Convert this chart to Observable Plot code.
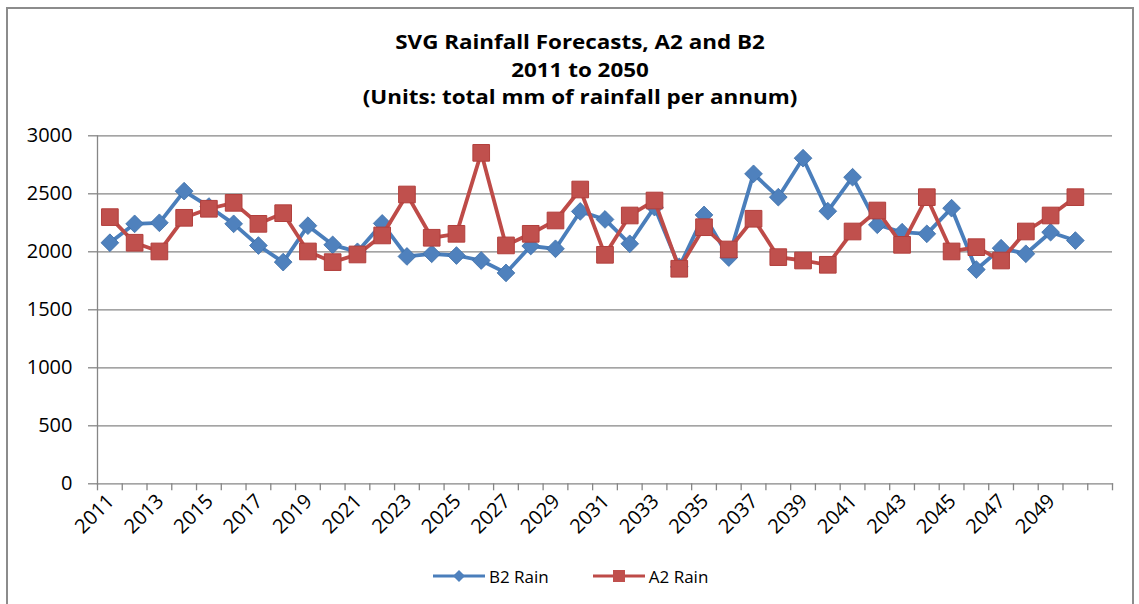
<!DOCTYPE html>
<html>
<head>
<meta charset="utf-8">
<script src="https://cdn.jsdelivr.net/npm/d3@7"></script>
<script src="https://cdn.jsdelivr.net/npm/@observablehq/plot@0.6"></script>
<style>
  body { margin: 0; background: #fff; }
  #wrap { position: relative; width: 1139px; height: 604px; background: #fff; overflow: hidden; font-family: "Open Sans", "Lato", sans-serif; color: #000; }
  #frame { position: absolute; left: 6px; top: 7px; width: 1128px; height: 640px; border: 2px solid #8c8c8c; box-sizing: border-box; }
  #title { position: absolute; left: 0; width: 1160px; top: 28px; text-align: center; font-weight: bold; font-size: 20px; line-height: 27.5px; transform: scaleX(1.12); transform-origin: 580px 0; }
  #chart { position: absolute; left: 0; top: 110px; }
  #legend { position: absolute; left: 433px; top: 564px; height: 24px; display: flex; align-items: center; font-size: 17px; }
  #legend .item { display: flex; align-items: center; margin-right: 44px; }
  #legend svg { margin-right: 4px; }
</style>
</head>
<body>
<div id="wrap">
  <div id="frame"></div>
  <div id="title"></div>
  <div id="chart"></div>
  <div id="legend"></div>
</div>
<script>
// ---- data ----
const titleLines = ["SVG Rainfall Forecasts, A2 and B2", "2011 to 2050", "(Units: total mm of rainfall per annum)"];
const years = ["2011","2012","2013","2014","2015","2016","2017","2018","2019","2020",
               "2021","2022","2023","2024","2025","2026","2027","2028","2029","2030",
               "2031","2032","2033","2034","2035","2036","2037","2038","2039","2040",
               "2041","2042","2043","2044","2045","2046","2047","2048","2049","2050"];
const categories = [...years, " "]; // 41 category slots, the last one empty
const b2Rain = [2078, 2241, 2250, 2523, 2390, 2241, 2054, 1911, 2225, 2060,
                2000, 2245, 1960, 1983, 1968, 1925, 1818, 2050, 2026, 2348,
                2279, 2069, 2385, 1870, 2318, 1950, 2672, 2471, 2807, 2350,
                2643, 2233, 2169, 2155, 2376, 1847, 2031, 1983, 2169, 2097];
const a2Rain = [2299, 2078, 2003, 2293, 2371, 2422, 2241, 2333, 2003, 1911,
                1977, 2141, 2494, 2121, 2155, 2853, 2055, 2155, 2270, 2537,
                1974, 2313, 2442, 1854, 2212, 2020, 2285, 1954, 1925, 1888,
                2175, 2356, 2060, 2471, 2003, 2040, 1925, 2175, 2313, 2471];
const xTickLabels = ["2011","2013","2015","2017","2019","2021","2023","2025","2027","2029",
                     "2031","2033","2035","2037","2039","2041","2043","2045","2047","2049"];
const yTicks = [0, 500, 1000, 1500, 2000, 2500, 3000];
const seriesNames = ["B2 Rain", "A2 Rain"];
const seriesColors = { "B2 Rain": "#4A7EBB", "A2 Rain": "#BE4B48" };
const markerFill = { "B2 Rain": "#4F81BD", "A2 Rain": "#C0504D" };

// ---- title ----
document.getElementById("title").innerHTML = titleLines.map(t => `<div>${t}</div>`).join("");

// ---- chart ----
const W = 1139, H = 440, mL = 97, mR = 27, mT = 25.3, mB = 66.7;
const step = (W - mL - mR) / categories.length;
const grid = "#868686";
const font = "'Open Sans', sans-serif";

const b2 = years.map((y, i) => ({year: y, value: b2Rain[i]}));
const a2 = years.map((y, i) => ({year: y, value: a2Rain[i]}));

const chart = Plot.plot({
  width: W, height: H,
  marginLeft: mL, marginRight: mR, marginTop: mT, marginBottom: mB,
  style: { fontFamily: font, background: "transparent", color: "#000", overflow: "visible" },
  x: { type: "point", domain: categories, padding: 0.5, axis: null },
  y: { domain: [0, 3000], axis: null },
  marks: [
    Plot.ruleY(yTicks.slice(1), { stroke: grid, strokeWidth: 1.3 }),
    Plot.frame({ anchor: "left", stroke: grid, strokeWidth: 1.3 }),
    Plot.frame({ anchor: "bottom", stroke: grid, strokeWidth: 1.3 }),
    // category boundary tick marks (Excel style, between categories)
    Plot.ruleX(categories, { x: d => d, dx: -step / 2, y1: 0, y2: 0, insetBottom: -7, stroke: grid, strokeWidth: 1.3 }),
    Plot.ruleX(categories.slice(-1), { x: d => d, dx: step / 2, y1: 0, y2: 0, insetBottom: -7, stroke: grid, strokeWidth: 1.3 }),
    // y tick marks
    Plot.axisY({ ticks: yTicks, tickSize: 9, stroke: grid, strokeWidth: 1.3, tickFormat: () => "", label: null }),
    // y tick labels
    Plot.text(yTicks, { y: d => d, text: d => String(d), frameAnchor: "left", dx: -25, textAnchor: "end", fontSize: 20, fill: "#000", fontFamily: font }),
    // x tick labels (rotated)
    Plot.text(xTickLabels, { x: d => d, text: d => d, frameAnchor: "bottom", rotate: -45, textAnchor: "end", lineAnchor: "middle", dx: 1, dy: 14, fontSize: 20, fill: "#000", fontFamily: font }),
    Plot.line(b2, { x: "year", y: "value", stroke: seriesColors["B2 Rain"], strokeWidth: 3.8 }),
    Plot.dot(b2, { x: "year", y: "value", symbol: "diamond2", r: 8, fill: markerFill["B2 Rain"], stroke: "#3C6FA8", strokeWidth: 0.8 }),
    Plot.line(a2, { x: "year", y: "value", stroke: seriesColors["A2 Rain"], strokeWidth: 3.8 }),
    Plot.dot(a2, { x: "year", y: "value", symbol: "square", r: 9.4, fill: markerFill["A2 Rain"], stroke: "#B23F3C", strokeWidth: 1 })
  ]
});
document.getElementById("chart").appendChild(chart);

// ---- legend ----
const legend = document.getElementById("legend");
seriesNames.forEach(name => {
  const item = document.createElement("div");
  item.className = "item";
  const c = seriesColors[name], f = markerFill[name];
  const marker = name === "B2 Rain"
    ? `<path d="M26,6 L32,12 L26,18 L20,12 Z" fill="${f}"/>`
    : `<rect x="20" y="6" width="12" height="12" fill="${f}"/>`;
  item.innerHTML = `<svg width="52" height="24"><line x1="0" y1="12" x2="52" y2="12" stroke="${c}" stroke-width="3"/>${marker}</svg><span>${name}</span>`;
  legend.appendChild(item);
});
</script>
</body>
</html>
